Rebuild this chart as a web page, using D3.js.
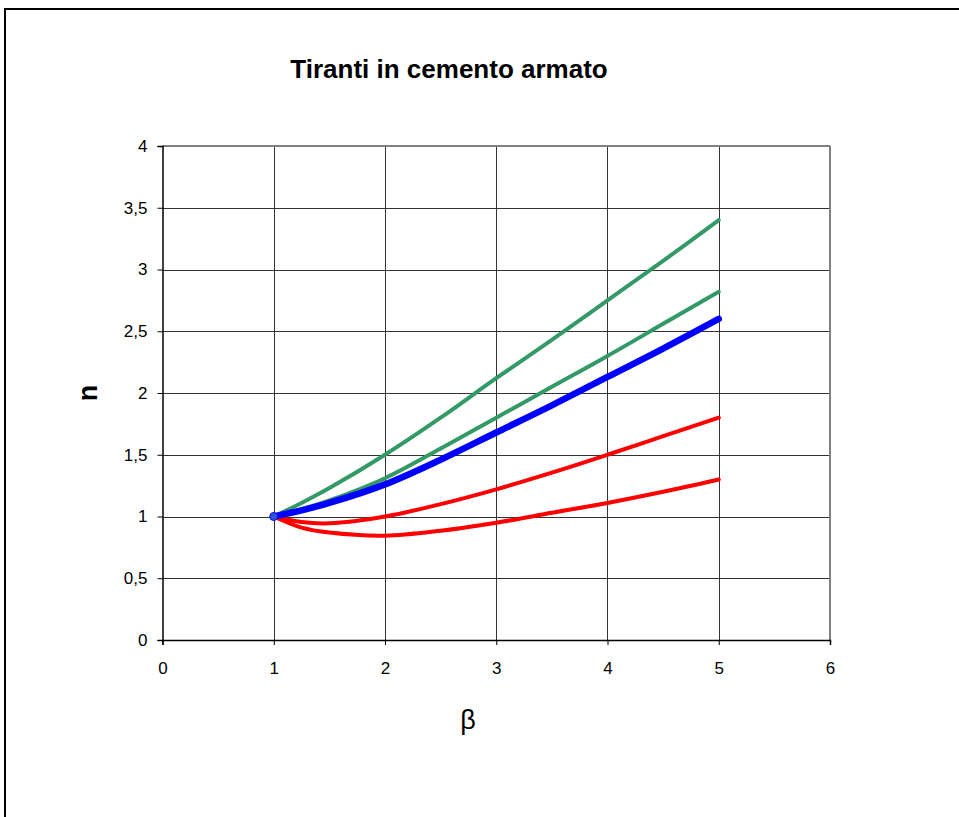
<!DOCTYPE html>
<html><head><meta charset="utf-8">
<script src="https://cdn.jsdelivr.net/npm/d3@7"></script>
<style>body{margin:0;background:#fff}svg{display:block}</style>
</head><body>
<script>
const beta = [1, 1.25, 1.5, 2, 2.5, 3, 3.5, 4, 4.5, 5];
const greenUpper = [1, 1.11, 1.23, 1.5, 1.8, 2.12, 2.43, 2.75, 3.07, 3.40];
const greenLower = [1, 1.06, 1.13, 1.31, 1.55, 1.80, 2.05, 2.30, 2.56, 2.82];
const blueLine   = [1, 1.05, 1.11, 1.26, 1.46, 1.68, 1.90, 2.13, 2.36, 2.60];
const redUpper   = [1, 0.955, 0.945, 1.0, 1.10, 1.22, 1.355, 1.50, 1.65, 1.80];
const redLower   = [1, 0.91, 0.87, 0.845, 0.885, 0.95, 1.03, 1.11, 1.20, 1.30];
const xTicks = [0, 1, 2, 3, 4, 5, 6];
const yTicks = [0, 0.5, 1, 1.5, 2, 2.5, 3, 3.5, 4];
const title = "Tiranti in cemento armato";

const W = 959, H = 817;
const FONT = "Liberation Sans, Arial, sans-serif";
const svg = d3.select("body").append("svg").attr("width", W).attr("height", H);
svg.append("rect").attr("x", 5).attr("y", 9).attr("width", W + 10).attr("height", H + 10)
  .attr("fill", "none").attr("stroke", "#000").attr("stroke-width", 2);

const L = 162.5, R = 830, T = 146, B = 640;
const x = d3.scaleLinear().domain([0, 6]).range([L, R]);
const y = d3.scaleLinear().domain([0, 4]).range([B, T]);

const g = svg.append("g");
g.selectAll(".hg").data(yTicks.filter(v => v > 0 && v < 4)).join("line")
  .attr("x1", L).attr("x2", R).attr("y1", d => Math.round(y(d)) + 0.5).attr("y2", d => Math.round(y(d)) + 0.5)
  .attr("stroke", "#333").attr("stroke-width", 1);
g.selectAll(".vg").data(xTicks.filter(v => v > 0 && v < 6)).join("line")
  .attr("y1", T).attr("y2", B).attr("x1", d => Math.round(x(d)) + 0.5).attr("x2", d => Math.round(x(d)) + 0.5)
  .attr("stroke", "#333").attr("stroke-width", 1);
g.append("line").attr("x1", L).attr("x2", R).attr("y1", T).attr("y2", T).attr("stroke", "#808080").attr("stroke-width", 2);
g.append("line").attr("x1", R).attr("x2", R).attr("y1", T).attr("y2", B).attr("stroke", "#808080").attr("stroke-width", 2);

const xAxis = d3.axisBottom(x).tickValues(xTicks).tickSize(5).tickPadding(17).tickFormat(d => String(d));
const yAxis = d3.axisLeft(y).tickValues(yTicks).tickSize(5).tickPadding(10).tickFormat(d => String(d).replace(".", ","));
const gx = svg.append("g").attr("transform", `translate(0,${B})`).call(xAxis);
const gy = svg.append("g").attr("transform", `translate(${L},0)`).call(yAxis);
[gx, gy].forEach(a => {
  a.select(".domain").attr("stroke", "#000").attr("stroke-width", 1.5);
  a.selectAll(".tick line").attr("stroke", "#000");
  a.selectAll("text").attr("font-family", FONT).attr("font-size", 17).attr("fill", "#000");
});

const line = d3.line().x(d => x(d[0])).y(d => y(d[1])).curve(d3.curveCatmullRom.alpha(0.5));
const series = [
  {v: redLower, c: "#FF0000", w: 4},
  {v: redUpper, c: "#FF0000", w: 4},
  {v: greenUpper, c: "#339966", w: 4},
  {v: greenLower, c: "#339966", w: 4},
  {v: blueLine, c: "#0000FF", w: 6.5}
];
series.forEach(s => {
  svg.append("path").datum(beta.map((b, i) => [b, s.v[i]])).attr("d", line)
    .attr("fill", "none").attr("stroke", s.c).attr("stroke-width", s.w)
    .attr("stroke-linecap", "round").attr("stroke-linejoin", "round");
});
svg.append("circle").attr("cx", x(beta[0])).attr("cy", y(blueLine[0])).attr("r", 4)
  .attr("fill", "#3355cc").attr("stroke", "#0000FF").attr("stroke-width", 1);

svg.append("text").attr("x", 449).attr("y", 78).attr("text-anchor", "middle")
  .attr("font-family", FONT).attr("font-weight", "bold").attr("font-size", 26)
  .text(title);
svg.append("text").attr("transform", `translate(97,${(T + B) / 2}) rotate(-90)`).attr("text-anchor", "middle")
  .attr("font-family", FONT).attr("font-weight", "bold").attr("font-size", 27)
  .text("n");
svg.append("text").attr("x", 468).attr("y", 729).attr("text-anchor", "middle")
  .attr("font-family", FONT).attr("font-size", 27)
  .text("β");
</script>
</body></html>
